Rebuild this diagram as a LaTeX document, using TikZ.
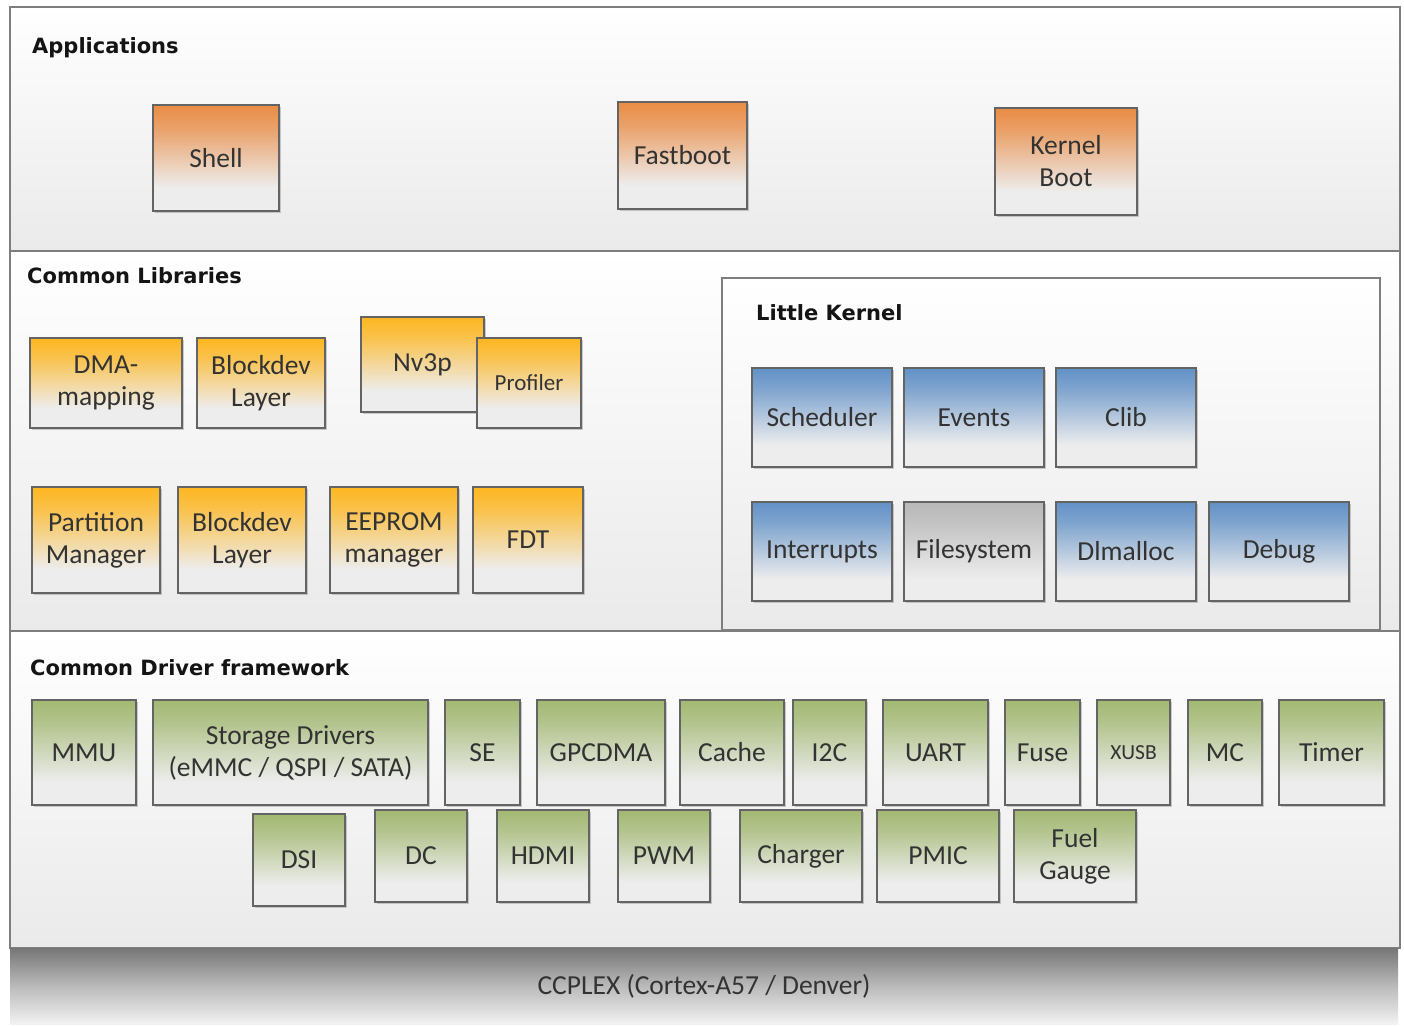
\documentclass[tikz,border=0pt]{standalone}
\usepackage{fontspec}
\setmainfont{Carlito}
\newfontfamily\headfont{DejaVu Sans}
\usetikzlibrary{shadows}

% palette
\definecolor{boxlow}{HTML}{EDEDED}
\definecolor{orangetop}{HTML}{E98C45}
\definecolor{goldtop}{HTML}{FDB620}
\definecolor{bluetop}{HTML}{6291C6}
\definecolor{greentop}{HTML}{A3B872}
\definecolor{graytop}{HTML}{B8B8B8}
\definecolor{panellow}{HTML}{EAEAEA}
\definecolor{bartop}{HTML}{767676}
\definecolor{barlow}{HTML}{F2F2F2}
\definecolor{boxline}{HTML}{646464}
\definecolor{frameline}{HTML}{7E7E7E}
\definecolor{labeltext}{HTML}{333333}

% vertical fills: light lower part, coloured top fading downwards
\newcommand\boxshading[2]{%
  \pgfdeclareverticalshading{#1}{100bp}{color(0bp)=(boxlow); color(25bp)=(boxlow);
    color(36bp)=(boxlow); color(52bp)=(#2!45!boxlow); color(64bp)=(#2!78!boxlow);
    color(75bp)=(#2); color(100bp)=(#2)}}
\boxshading{shOrange}{orangetop}
\boxshading{shGold}{goldtop}
\boxshading{shBlue}{bluetop}
\boxshading{shGreen}{greentop}
\boxshading{shGray}{graytop}
\pgfdeclareverticalshading{shPanel}{100bp}{color(0bp)=(panellow); color(25bp)=(panellow); color(75bp)=(white); color(100bp)=(white)}
\pgfdeclareverticalshading{shBar}{100bp}{color(0bp)=(barlow); color(25bp)=(barlow); color(50bp)=(bartop!45!barlow); color(75bp)=(bartop); color(100bp)=(bartop)}

\tikzset{
  blk/.style={rectangle, draw=boxline, line width=1.3pt, inner sep=2pt,
    align=center, text=labeltext, font=\fontsize{27.5}{32}\selectfont,
    drop shadow={shadow xshift=1.5pt, shadow yshift=-2pt, opacity=.35, fill=black!55}},
  appblk/.style={blk, shade, shading=shOrange},
  libblk/.style={blk, shade, shading=shGold},
  lkblk/.style={blk, shade, shading=shBlue},
  fsblk/.style={blk, shade, shading=shGray},
  drvblk/.style={blk, shade, shading=shGreen},
  panel/.style={draw=frameline, line width=1.5pt, shade, shading=shPanel},
  hdr/.style={anchor=west, inner sep=0pt, text=black!92,
    font=\headfont\bfseries\fontsize{21}{25}\selectfont},
}

% \blk{style}{name}{x1}{y1}{x2}{y2}{label}
\newcommand\blk[7]{\node[#1, minimum width={(#5)-(#3)}, minimum height={(#6)-(#4)}]
  (#2) at ({((#3)+(#5))/2},{((#4)+(#6))/2}) {#7};}

\begin{document}
\begin{tikzpicture}[x=1pt, y=-1pt]
\useasboundingbox (0,0) rectangle (1404,1025);
\fill[white] (0,0) rectangle (1404,1025);

% layer panels
\path[panel] (10,7) rectangle (1400,251);
\path[panel] (10,251) rectangle (1400,631);
\path[panel] (10,631) rectangle (1400,948);

% processor bar
\node[rectangle, shade, shading=shBar, minimum width=1388, minimum height=76,
  inner sep=0pt, text=labeltext, font=\fontsize{27.5}{32}\selectfont]
  (ccplex) at (704,986) {CCPLEX (Cortex-A57 / Denver)};

% Applications
\node[hdr] (apphdr) at (32,48) {Applications};
\blk{appblk}{shell}{153}{105}{279}{211}{Shell}
\blk{appblk}{fastboot}{618}{102}{747}{209}{Fastboot}
\blk{appblk}{kboot}{995}{108}{1137}{215}{Kernel\\Boot}

% Common Libraries
\node[hdr] (libhdr) at (27,276) {Common Libraries};
\blk{libblk}{dma}{30}{338}{182}{428}{DMA-\\mapping}
\blk{libblk}{bdevA}{197}{338}{325}{428}{Blockdev\\Layer}
\blk{libblk}{nvp}{361}{317}{484}{412}{Nv3p}
\blk{libblk, font=\fontsize{23}{28}\selectfont}{prof}{477}{338}{581}{428}{Profiler}
\blk{libblk}{part}{32}{487}{160}{593}{Partition\\Manager}
\blk{libblk}{bdevB}{178}{487}{306}{593}{Blockdev\\Layer}
\blk{libblk}{eeprom}{330}{487}{458}{593}{EEPROM\\manager}
\blk{libblk}{fdt}{473}{487}{583}{593}{FDT}

% Little Kernel
\node[rectangle, draw=frameline, line width=1.5pt, shade, shading=shPanel,
  minimum width=658, minimum height=352, inner sep=0pt] (lkbox) at (1051,454) {};
\node[hdr] (lkhdr) at (756,313) {Little Kernel};
\blk{lkblk}{sched}{752}{368}{892}{467}{Scheduler}
\blk{lkblk}{events}{904}{368}{1044}{467}{Events}
\blk{lkblk}{clib}{1056}{368}{1196}{467}{Clib}
\blk{lkblk}{irq}{752}{502}{892}{601}{Interrupts}
\blk{fsblk}{fs}{904}{502}{1044}{601}{Filesystem}
\blk{lkblk}{dlm}{1056}{502}{1196}{601}{Dlmalloc}
\blk{lkblk}{dbg}{1209}{502}{1349}{601}{Debug}

% Common Driver framework
\node[hdr] (drvhdr) at (30,668) {Common Driver framework};
\blk{drvblk}{mmu}{32}{700}{136}{805}{MMU}
\blk{drvblk}{storage}{153}{700}{428}{805}{Storage Drivers\\(eMMC / QSPI / SATA)}
\blk{drvblk}{se}{445}{700}{520}{805}{SE}
\blk{drvblk}{gpcdma}{537}{700}{665}{805}{GPCDMA}
\blk{drvblk}{cache}{680}{700}{784}{805}{Cache}
\blk{drvblk}{itwoc}{793}{700}{866}{805}{I2C}
\blk{drvblk}{uart}{883}{700}{988}{805}{UART}
\blk{drvblk}{fuse}{1005}{700}{1080}{805}{Fuse}
\blk{drvblk, font=\fontsize{21.5}{26}\selectfont}{xusb}{1097}{700}{1170}{805}{XUSB}
\blk{drvblk}{mc}{1188}{700}{1262}{805}{MC}
\blk{drvblk}{timer}{1279}{700}{1384}{805}{Timer}
\blk{drvblk}{dsi}{253}{814}{345}{906}{DSI}
\blk{drvblk}{dc}{375}{810}{467}{902}{DC}
\blk{drvblk}{hdmi}{497}{810}{589}{902}{HDMI}
\blk{drvblk}{pwm}{618}{810}{710}{902}{PWM}
\blk{drvblk}{charger}{740}{810}{862}{902}{Charger}
\blk{drvblk}{pmic}{877}{810}{999}{902}{PMIC}
\blk{drvblk}{fuel}{1014}{810}{1136}{902}{Fuel\\Gauge}
\end{tikzpicture}
\end{document}
